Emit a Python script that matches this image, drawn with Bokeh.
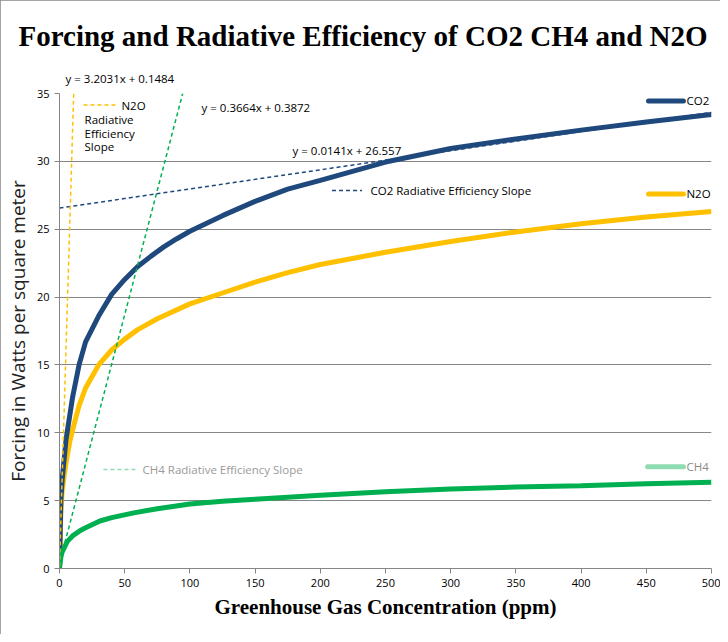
from bokeh.plotting import figure
from bokeh.models import Range1d, Label, FixedTicker, Title
from bokeh.embed import file_html
from bokeh.resources import INLINE

# ---- data ----
conc_co2 = [0, 1, 2, 5, 10, 15, 20, 30, 40, 50, 60, 70, 80, 90, 100, 125, 150, 175, 200, 250, 300, 350, 400, 450, 500]
forcing_co2 = [0, 5.0, 6.5, 9.5, 12.6, 15.0, 16.7, 18.6, 20.2, 21.3, 22.25, 23.0, 23.7, 24.3, 24.85, 26.0, 27.05, 27.95, 28.6, 29.95, 30.95, 31.65, 32.3, 32.9, 33.45]

conc_n2o = [0, 1, 2, 5, 8, 10, 15, 20, 30, 40, 50, 60, 75, 100, 125, 150, 175, 200, 250, 300, 350, 400, 450, 500]
forcing_n2o = [0, 4.0, 5.7, 7.8, 9.4, 10.2, 12.0, 13.3, 15.0, 16.1, 16.9, 17.6, 18.4, 19.5, 20.3, 21.1, 21.8, 22.4, 23.3, 24.1, 24.8, 25.4, 25.9, 26.3]

conc_ch4 = [0, 1, 2, 6, 10, 16, 20, 31, 40, 57, 75, 100, 125, 150, 200, 250, 300, 350, 400, 450, 500]
forcing_ch4 = [0, 0.8, 1.2, 2.0, 2.4, 2.8, 3.0, 3.5, 3.75, 4.1, 4.4, 4.75, 4.95, 5.1, 5.4, 5.65, 5.85, 6.0, 6.1, 6.25, 6.35]

# linear trendlines: slope, intercept (radiative efficiency slopes)
trend_names = ["CO2", "CH4", "N2O"]
trend_slope = [0.0141, 0.3664, 3.2031]
trend_intercept = [26.557, 0.3872, 0.1484]

x_ticks = [0, 50, 100, 150, 200, 250, 300, 350, 400, 450, 500]
y_ticks = [0, 5, 10, 15, 20, 25, 30, 35]

X_MAX, Y_MAX = 500, 35

C_CO2 = "#1F497D"
C_N2O = "#FFC000"
C_CH4 = "#00B050"
C_CH4_LIGHT = "#8FDCB3"
GRID = "#868686"
FONT = "Open Sans"

p = figure(width=720, height=634, output_backend="svg", toolbar_location=None,
           x_range=Range1d(0, X_MAX), y_range=Range1d(0, Y_MAX),
           min_border_left=59, min_border_right=9, min_border_top=93, min_border_bottom=66,
           background_fill_color="white", border_fill_color="white",
           styles={"outline": "1px solid #868686", "outline-offset": "-1px"})
p.outline_line_color = None

p.title.text = "Forcing and Radiative Efficiency of CO2 CH4 and N2O"
p.title.text_font = "Liberation Serif"
p.title.text_font_size = "29px"
p.title.text_font_style = "bold"
p.title.text_color = "black"
p.title.align = "left"
p.title.offset = -41
p.title.standoff = 20

# equation of the N2O trendline, which sits above the plotting area
eq_title = Title(text="y = 3.2031x + 0.1484", align="left", offset=6, standoff=15,
                 text_font=FONT, text_font_size="11.5px", text_font_style="normal",
                 text_color="black")
p.add_layout(eq_title, "above")

# axes
p.xaxis.ticker = FixedTicker(ticks=x_ticks)
p.yaxis.ticker = FixedTicker(ticks=y_ticks)
for ax in (p.xaxis[0], p.yaxis[0]):
    ax.axis_line_color = GRID
    ax.major_tick_line_color = GRID
    ax.minor_tick_line_color = None
    ax.major_tick_in = 0
    ax.major_tick_out = 5
    ax.major_label_text_font = FONT
    ax.major_label_text_font_size = "11px"
    ax.major_label_text_color = "black"
p.xaxis.axis_label = "Greenhouse Gas Concentration (ppm)"
p.xaxis.axis_label_text_font = "Liberation Serif"
p.xaxis.axis_label_text_font_style = "bold"
p.xaxis.axis_label_text_font_size = "21px"
p.xaxis.axis_label_text_color = "black"
p.xaxis.axis_label_standoff = 5
p.yaxis.axis_label = "Forcing in Watts per square meter"
p.yaxis.axis_label_text_font = FONT
p.yaxis.axis_label_text_font_style = "normal"
p.yaxis.axis_label_text_font_size = "19px"
p.yaxis.axis_label_text_color = "#222222"
p.yaxis.axis_label_standoff = 3

p.xgrid.grid_line_color = None
p.ygrid.grid_line_color = GRID
p.ygrid.grid_line_width = 1

# data series
p.line(conc_n2o, forcing_n2o, line_color=C_N2O, line_width=5)
p.line(conc_co2, forcing_co2, line_color=C_CO2, line_width=5)
p.line(conc_ch4, forcing_ch4, line_color=C_CH4, line_width=5)

# trendlines (computed from equations, clipped at top of range)
trend_colors = [C_CO2, C_CH4, C_N2O]
for name, m, b, col in zip(trend_names, trend_slope, trend_intercept, trend_colors):
    x_end = min(X_MAX, (Y_MAX - b) / m)
    p.line([0, x_end], [b, m * x_end + b], line_color=col, line_width=1.5, line_dash="4 3")

# legend-like samples and labels
def lab(x, y, text, color="black", size="11.5px"):
    p.add_layout(Label(x=x, y=y, text=text, text_font=FONT, text_font_size=size,
                       text_color=color, text_baseline="middle"))

# series legend entries
p.line([451.7, 478.5], [34.45, 34.45], line_color=C_CO2, line_width=5, line_cap="round")
lab(480.8, 34.45, "CO2")
p.line([451.7, 478.5], [27.6, 27.6], line_color=C_N2O, line_width=5, line_cap="round")
lab(480.8, 27.6, "N2O")
p.line([451.0, 478.5], [7.5, 7.5], line_color=C_CH4_LIGHT, line_width=5, line_cap="round")
lab(480.8, 7.5, "CH4", color="#8A8A8A")

# trendline legend entries
p.line([209, 232], [27.85, 27.85], line_color=C_CO2, line_width=1.5, line_dash="4 3")
lab(238.5, 27.85, "CO2 Radiative Efficiency Slope")
p.line([33.7, 59.8], [7.3, 7.3], line_color=C_CH4_LIGHT, line_width=1.5, line_dash="4 3")
lab(63.7, 7.3, "CH4 Radiative Efficiency Slope", color="#9A9A9A")
p.line([18.4, 43.7], [34.15, 34.15], line_color=C_N2O, line_width=1.5, line_dash="4 3")
lab(47.5, 34.15, "N2O")
lab(19.2, 33.1, "Radiative")
lab(19.2, 32.05, "Efficiency")
lab(19.2, 31.1, "Slope")

# equations inside the plotting area
lab(108.9, 33.97, "y = 0.3664x + 0.3872")
lab(178.7, 30.8, "y = 0.0141x + 26.557")

open("out.html", "w").write(file_html(p, INLINE))
